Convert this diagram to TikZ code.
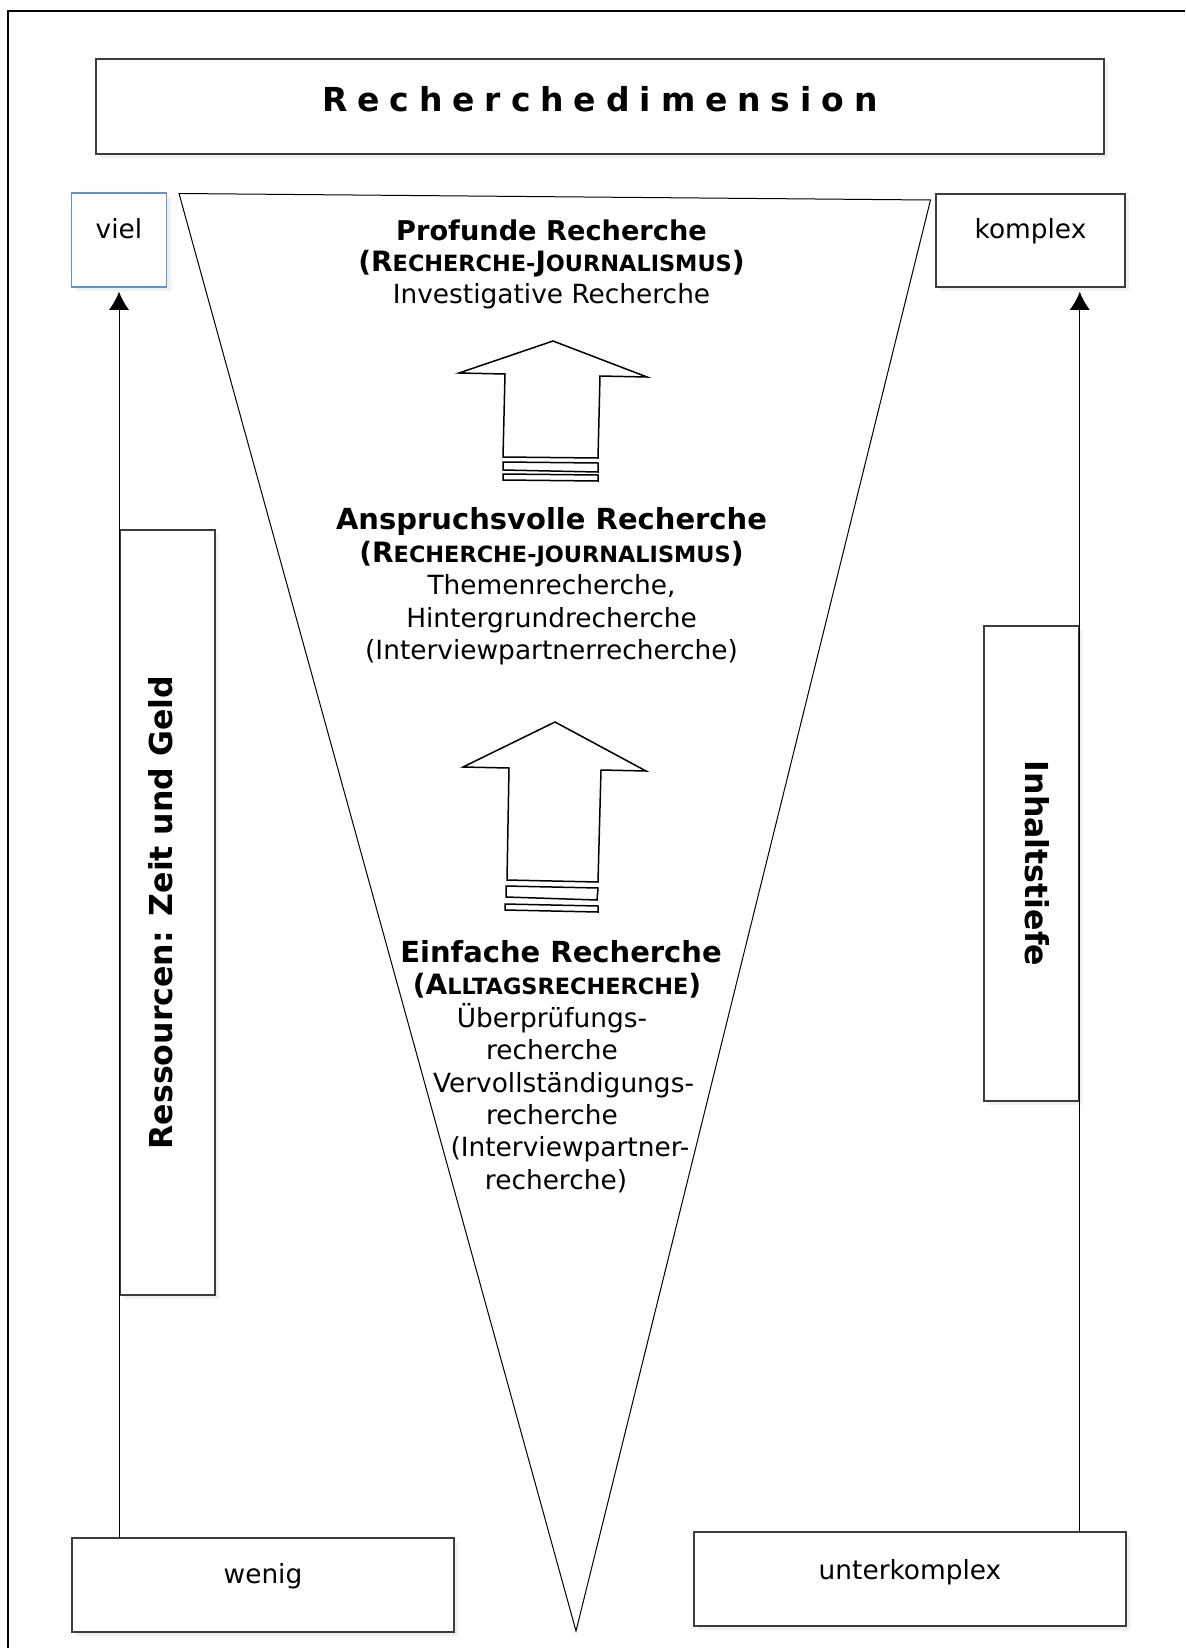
\documentclass[tikz,border=0pt]{standalone}
\usepackage{fontspec}
\setmainfont{DejaVu Sans}
\usetikzlibrary{arrows.meta,shadows}
\definecolor{vielblue}{RGB}{98,146,214}
\definecolor{boxgray}{RGB}{60,60,60}
\newcommand{\kap}[1]{{\fontsize{11.2pt}{16pt}\selectfont #1}}

\begin{document}
\begin{tikzpicture}[x=0.5pt,y=-0.5pt,
		every node/.style={font=\fontsize{13.2pt}{16pt}\selectfont},
		box/.style={draw=boxgray,line width=0.75pt,fill=white,inner sep=0pt,
			drop shadow={opacity=0.12,shadow xshift=2pt,shadow yshift=-2pt}},
		sidebox/.style={box,minimum height=47.5pt,font=\bfseries\fontsize{15.8pt}{18pt}\selectfont},
		stage/.style={align=center,inner sep=0pt,anchor=north},
		blockarrow/.style={draw,line width=0.75pt,fill=white},
		conn/.style={line width=0.5pt,-{Latex[length=9pt,width=10pt]},shorten >=2pt}]
	\useasboundingbox (0,0) rectangle (1185,1648);
	\draw[line width=1pt] (8,1648) -- (8,11) -- (1185,11);

	\node[box,minimum width=504pt,text height=26.5pt,text depth=21pt,anchor=base,
		font=\bfseries\fontsize{16.5pt}{20pt}\selectfont\addfontfeature{LetterSpace=30}] at (600,112) (dimension) {Recherchedimension};

	\draw[line width=0.5pt,fill=white] (179,193.5) -- (930.5,200) -- (576,1631) -- cycle;

	\node[box,draw=vielblue,minimum width=47.5pt,text height=23pt,text depth=24pt,anchor=base] at (119,239) (viel) {viel};
	\node[box,minimum width=94.5pt,text height=22.5pt,text depth=24pt,anchor=base] at (1030.5,239) (komplex) {komplex};
	\node[box,minimum width=191pt,text height=22.5pt,text depth=24.5pt,anchor=base] at (263,1583) (wenig) {wenig};
	\node[box,minimum width=216pt,text height=23.5pt,text depth=23.5pt,anchor=base] at (910,1579) (unterkomplex) {unterkomplex};

	\node[sidebox,rotate=90,minimum width=382.5pt,text depth=7.5pt] at (167.5,912.5) (ressourcen) {Ressourcen: Zeit und Geld};
	\node[sidebox,rotate=-90,minimum width=237.5pt,text depth=5.5pt] at (1031.5,863.5) (inhalt) {Inhaltstiefe};

	\draw[conn] (wenig.north -| viel.south) -- (viel.south);
	\draw[conn] (unterkomplex.north -| inhalt.north) -- (komplex.south -| inhalt.north);

	\path[blockarrow] (553,341) -- (647,377) -- (600,376) -- (598,458) -- (503,457) -- (505,374) -- (459,373) -- cycle;
	\path[blockarrow] (503,462) -- (598,463) -- (598,472) -- (503,470) -- cycle;
	\path[blockarrow] (503,474) -- (598,475) -- (598,481) -- (503,480) -- cycle;
	\path[blockarrow] (555,722) -- (646,771) -- (601,770) -- (598,882) -- (507,880) -- (509,768) -- (463,767) -- cycle;
	\path[blockarrow] (506,886) -- (598,888) -- (597,900) -- (506,897) -- cycle;
	\path[blockarrow] (505,904) -- (598,906) -- (598,912) -- (505,910) -- cycle;

	\node[stage,font=\fontsize{13.2pt}{15.75pt}\selectfont] at (551.5,219) (profund) {{\bfseries\fontsize{13.6pt}{16pt}\selectfont Profunde Recherche}\\
		{\bfseries\fontsize{14pt}{16pt}\selectfont (R\kap{ECHERCHE-}J\kap{OURNALISMUS})}\\
		Investigative Recherche};
	\node[stage,font=\fontsize{13.2pt}{16.3pt}\selectfont] at (551.5,507) (anspruch) {{\bfseries\fontsize{14.5pt}{16pt}\selectfont Anspruchsvolle Recherche}\\
		{\bfseries\fontsize{14pt}{16pt}\selectfont (R\kap{ECHERCHE-JOURNALISMUS})}\\
		Themenrecherche,\\
		Hintergrundrecherche\\
		(Interviewpartnerrecherche)};
	\node[stage,font=\fontsize{13.2pt}{16.2pt}\selectfont] at (552,940) (einfach) {\hspace*{9pt}{\bfseries\fontsize{14.5pt}{16pt}\selectfont Einfache Recherche}\\
		\hspace*{5pt}{\bfseries\fontsize{14pt}{16pt}\selectfont (A\kap{LLTAGSRECHERCHE})}\\
		Überprüfungs-\\
		recherche\\
		\hspace*{11.5pt}Vervollständigungs-\\
		recherche\\
		\hspace*{18pt}(Interviewpartner-\\
		\hspace*{4pt}recherche)};
\end{tikzpicture}
\end{document}
